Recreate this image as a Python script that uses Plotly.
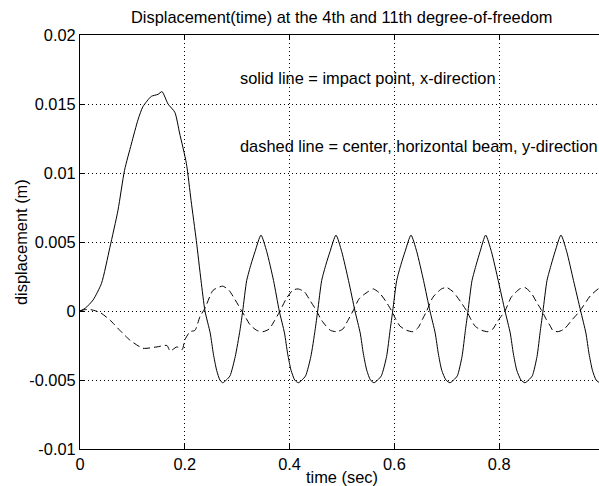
import plotly.graph_objects as go

# ---- data ----
t_solid = [0.000, 0.010, 0.025, 0.041, 0.057, 0.0725, 0.085, 0.098, 0.111, 0.120,
           0.136, 0.149, 0.1565, 0.168, 0.181, 0.190, 0.203, 0.212, 0.222, 0.231,
           0.2385, 0.2485, 0.2545, 0.2608, 0.2670,
           0.2723, 0.2793, 0.2863, 0.2963, 0.3053, 0.3105, 0.3181, 0.3265, 0.3340, 0.3454,
           0.3564, 0.3694, 0.3803, 0.3903, 0.3963, 0.4028, 0.4098,
           0.4166, 0.4236, 0.4306, 0.4406, 0.4486, 0.4536, 0.4612, 0.4696, 0.4771, 0.4885,
           0.4995, 0.5125, 0.5248, 0.5348, 0.5408, 0.5473, 0.5543,
           0.5611, 0.5681, 0.5751, 0.5851, 0.5918, 0.5968, 0.6044, 0.6128, 0.6203, 0.6317,
           0.6427, 0.6557, 0.6679, 0.6779, 0.6839, 0.6904, 0.6984,
           0.7061, 0.7131, 0.7201, 0.7291, 0.7355, 0.7405, 0.7481, 0.7565, 0.7635, 0.7742,
           0.7852, 0.7982, 0.8111, 0.8211, 0.8271, 0.8336, 0.8416,
           0.8492, 0.8562, 0.8632, 0.8722, 0.8786, 0.8836, 0.8912, 0.8996, 0.9066, 0.9179,
           0.9289, 0.9419, 0.9555, 0.9655, 0.9715, 0.9780, 0.9850, 0.9924, 1.0000]
disp_solid = [0.0, 0.0002, 0.0008, 0.0020, 0.0046, 0.0073, 0.0102, 0.0121, 0.0139, 0.0148,
              0.01555, 0.0157, 0.0159, 0.0150, 0.0144, 0.0129, 0.0107, 0.0080, 0.0051, 0.0022,
              0.0, -0.0016, -0.0031, -0.0043, -0.0050,
              -0.0052, -0.0050, -0.0047, -0.0033, -0.0014, 0.0, 0.0022, 0.0034, 0.0043, 0.0055,
              0.0043, 0.0022, 0.0, -0.0016, -0.0031, -0.0043, -0.0050,
              -0.0052, -0.0050, -0.0047, -0.0033, -0.0014, 0.0, 0.0022, 0.0034, 0.0043, 0.0055,
              0.0043, 0.0022, 0.0, -0.0016, -0.0031, -0.0043, -0.0050,
              -0.0052, -0.0050, -0.0047, -0.0033, -0.0014, 0.0, 0.0022, 0.0034, 0.0043, 0.0055,
              0.0043, 0.0022, 0.0, -0.0016, -0.0031, -0.0043, -0.0050,
              -0.0052, -0.0050, -0.0047, -0.0033, -0.0014, 0.0, 0.0022, 0.0034, 0.0043, 0.0055,
              0.0043, 0.0022, 0.0, -0.0016, -0.0031, -0.0043, -0.0050,
              -0.0052, -0.0050, -0.0047, -0.0033, -0.0014, 0.0, 0.0022, 0.0034, 0.0043, 0.0055,
              0.0043, 0.0022, 0.0, -0.0016, -0.0031, -0.0043, -0.0050, -0.0052, -0.0050]

t_dashed = [0.000, 0.0095, 0.020, 0.038, 0.057, 0.076, 0.095, 0.120, 0.147, 0.166,
            0.172, 0.185, 0.195, 0.200, 0.210, 0.2195, 0.229, 0.2385, 0.254,
            0.2723, 0.2843, 0.2963, 0.3086, 0.3166, 0.3246, 0.3372, 0.3492, 0.3612, 0.3712,
            0.3817, 0.3937, 0.4060,
            0.4160, 0.4280, 0.4400, 0.4517, 0.4597, 0.4677, 0.4779, 0.4899, 0.5019, 0.5110,
            0.5210, 0.5330, 0.5497,
            0.5597, 0.5717, 0.5837, 0.5948, 0.6028, 0.6108, 0.6235, 0.6355, 0.6455, 0.6536,
            0.6616, 0.6736, 0.6898,
            0.6998, 0.7118, 0.7258, 0.7380, 0.7460, 0.7540, 0.7666, 0.7786, 0.7880, 0.7977,
            0.8110, 0.8230, 0.8392,
            0.8492, 0.8612, 0.8720, 0.8817, 0.8897, 0.8977, 0.9022, 0.9122, 0.9242, 0.9400,
            0.9540, 0.9740, 0.9924, 1.0000]
disp_dashed = [0.0, 0.0001, 0.0001, -0.0001, -0.00065, -0.0014, -0.0021, -0.0027, -0.0026, -0.0025,
               -0.0029, -0.0026, -0.0028, -0.0021, -0.0015, -0.0014, -0.0004, 0.0002, 0.0015,
               0.0018, 0.0015, 0.0008, 0.0, -0.0005, -0.0010, -0.0014, -0.0015, -0.0013, -0.0007,
               0.0, 0.0009, 0.0015,
               0.0016, 0.0014, 0.0007, 0.0, -0.0006, -0.0010, -0.0014, -0.0015, -0.0013, -0.0007,
               0.0, 0.0009, 0.0014,
               0.0016, 0.0013, 0.0007, 0.0, -0.0006, -0.0011, -0.0014, -0.0015, -0.0012, -0.0006,
               0.0, 0.0010, 0.0016,
               0.0017, 0.0014, 0.0007, 0.0, -0.0006, -0.0011, -0.0014, -0.0015, -0.0013, -0.0007,
               0.0, 0.0010, 0.0016,
               0.0017, 0.0013, 0.0006, 0.0, -0.0006, -0.0011, -0.0014, -0.0015, -0.0013, -0.0006,
               0.0, 0.0011, 0.0017, 0.0018]

x_ticks = [0, 0.2, 0.4, 0.6, 0.8]
x_tick_labels = ["0", "0.2", "0.4", "0.6", "0.8"]
y_ticks = [-0.01, -0.005, 0, 0.005, 0.01, 0.015, 0.02]
y_tick_labels = ["-0.01", "-0.005", "0", "0.005", "0.01", "0.015", "0.02"]

title_text = "Displacement(time) at the 4th and 11th degree-of-freedom"
x_title = "time (sec)"
y_title = "displacement (m)"
note_solid = "solid line = impact point, x-direction"
note_dashed = "dashed line = center, horizontal beam, y-direction"

FONT = "Liberation Sans, Arial, Helvetica, sans-serif"
FS = 16.4

fig = go.Figure()
fig.add_trace(go.Scatter(x=t_solid, y=disp_solid, mode="lines",
                         line=dict(color="black", width=1, shape="spline", smoothing=0.6),
                         showlegend=False, hoverinfo="skip"))
fig.add_trace(go.Scatter(x=t_dashed, y=disp_dashed, mode="lines",
                         line=dict(color="black", width=1, dash="7px,4px", shape="spline", smoothing=0.6),
                         showlegend=False, hoverinfo="skip"))

axis_common = dict(showline=True, linecolor="black", linewidth=1,
                   ticks="inside", ticklen=5, tickcolor="black", tickwidth=1,
                   showgrid=True, gridcolor="black", gridwidth=1, griddash="1px,3px",
                   zeroline=False, tickfont=dict(family=FONT, size=FS, color="black"))

fig.update_xaxes(range=[0, 0.9905], tickmode="array", tickvals=x_ticks, ticktext=x_tick_labels,
                 mirror="ticks", **axis_common)
fig.update_yaxes(range=[-0.01, 0.02], tickmode="array", tickvals=y_ticks, ticktext=y_tick_labels,
                 mirror=False, **axis_common)

fig.add_annotation(text=note_solid, x=0.3015, y=0.01688, xref="x", yref="y",
                   xanchor="left", yanchor="middle", showarrow=False,
                   font=dict(family=FONT, size=FS, color="black"))
fig.add_annotation(text=note_dashed, x=0.3015, y=0.01196, xref="x", yref="y",
                   xanchor="left", yanchor="middle", showarrow=False,
                   font=dict(family=FONT, size=FS, color="black"))
fig.add_annotation(text=title_text, x=(342 - 80) / 519, y=1 + (35 - 17) / 414,
                   xref="paper", yref="paper",
                   showarrow=False, xanchor="center", yanchor="middle",
                   font=dict(family=FONT, size=FS, color="black"))
fig.add_annotation(text=x_title, x=(342 - 80) / 519, y=-(477 - 449) / 414,
                   xref="paper", yref="paper",
                   showarrow=False, xanchor="center", yanchor="middle",
                   font=dict(family=FONT, size=FS, color="black"))
fig.add_annotation(text=y_title, x=-(80 - 21) / 519, y=0.5, xref="paper", yref="paper",
                   showarrow=False, xanchor="center", yanchor="middle", textangle=-90,
                   font=dict(family=FONT, size=FS, color="black"))

fig.update_layout(width=599, height=486, autosize=False,
                  margin=dict(l=80, r=0, t=35, b=37),
                  paper_bgcolor="white", plot_bgcolor="white",
                  font=dict(family=FONT, size=FS, color="black"))

fig.write_html("out.html", config={"displayModeBar": False},
               post_script="document.body.style.margin='0px';")
